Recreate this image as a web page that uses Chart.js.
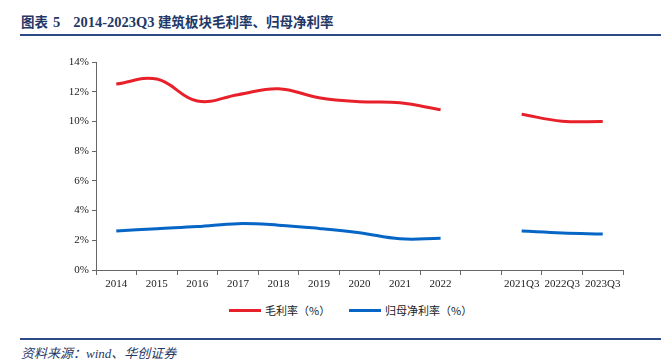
<!DOCTYPE html>
<html><head><meta charset="utf-8">
<script src="https://cdn.jsdelivr.net/npm/chart.js@4/dist/chart.umd.min.js"></script>
<style>
html,body{margin:0;padding:0;background:#fff;width:661px;height:361px;overflow:hidden;position:relative}
#title{position:absolute;left:21px;top:11px;font-family:"Liberation Serif","Noto Sans CJK SC",serif;font-weight:bold;font-size:13.5px;color:#1f3868;white-space:pre}
#title .n{font-size:14.5px}
#rule1{position:absolute;left:20px;top:34px;width:641px;height:2px;background:#2b4a86}
#rule2{position:absolute;left:20px;top:338px;width:641px;height:2px;background:#2b4a86}
#foot{position:absolute;left:21px;top:343px;font-family:"Liberation Serif","Noto Sans CJK SC",serif;font-style:italic;font-size:13px;color:#1f3868}
#wrap{position:absolute;left:0;top:40px;width:661px;height:260px}
#legend{position:absolute;top:302px;left:0;width:661px;height:16px;font-family:"Noto Sans CJK SC",sans-serif;font-size:11px;color:#222}
.li{position:absolute;top:0;height:16px;line-height:16px}
.sw{position:absolute;top:7px;width:32px;height:3px}
</style></head>
<body>
<div id="title">图表<span class="n" style="margin-left:5px">5</span><span class="n" style="margin-left:13px">2014-2023Q3</span> 建筑板块毛利率、归母净利率</div>
<div id="rule1"></div>
<div id="wrap"><canvas id="c"></canvas></div>
<div id="legend">
  <div class="sw" style="left:229px;background:#e8202a"></div><div class="li" style="left:265px">毛利率（%）</div>
  <div class="sw" style="left:349px;background:#0666c6"></div><div class="li" style="left:385px">归母净利率（%）</div>
</div>
<div id="rule2"></div>
<div id="foot">资料来源：wind、华创证券</div>
<script>
const categories = ["2014","2015","2016","2017","2018","2019","2020","2021","2022","","2021Q3","2022Q3","2023Q3"];
const grossMargin = [12.52,12.85,11.37,11.8,12.2,11.6,11.33,11.25,10.79,null,10.48,10.02,10.0];
const netMargin = [2.62,2.78,2.92,3.12,3.02,2.8,2.51,2.1,2.13,null,2.62,2.49,2.42];
const yTicks = [0,2,4,6,8,10,12,14];

new Chart(document.getElementById('c'), {
  type: 'line',
  data: {
    labels: categories,
    datasets: [
      {label:'毛利率（%）', data: grossMargin, borderColor:'#e8202a', backgroundColor:'#e8202a', borderWidth:3, pointRadius:0, tension:0.4, spanGaps:false},
      {label:'归母净利率（%）', data: netMargin, borderColor:'#0666c6', backgroundColor:'#0666c6', borderWidth:3, pointRadius:0, tension:0.4, spanGaps:false}
    ]
  },
  options: {
    responsive:true, maintainAspectRatio:false, animation:false,
    layout:{padding:{top:22,right:38,left:0,bottom:0}},
    plugins:{legend:{display:false}, tooltip:{enabled:false}},
    scales:{
      x:{
        offset:true,
        grid:{offset:true, drawOnChartArea:false, drawTicks:true, tickLength:5, color:'#666'},
        border:{color:'#666', width:1},
        ticks:{color:'#222', font:{family:'"Liberation Serif", serif', size:11}, padding:3, maxRotation:0, autoSkip:false},
        afterFit:(s)=>{s.height=30;}
      },
      y:{
        min:0, max:14,
        afterBuildTicks:(s)=>{s.ticks = yTicks.map(v=>({value:v}));},
        grid:{drawOnChartArea:false, drawTicks:true, tickLength:4, color:'#666'},
        border:{color:'#666', width:1},
        ticks:{color:'#222', font:{family:'"Liberation Serif", serif', size:11}, padding:3, callback:(v)=>v+'%'},
        afterFit:(s)=>{s.width=96;}
      }
    }
  }
});
</script>
</body></html>
